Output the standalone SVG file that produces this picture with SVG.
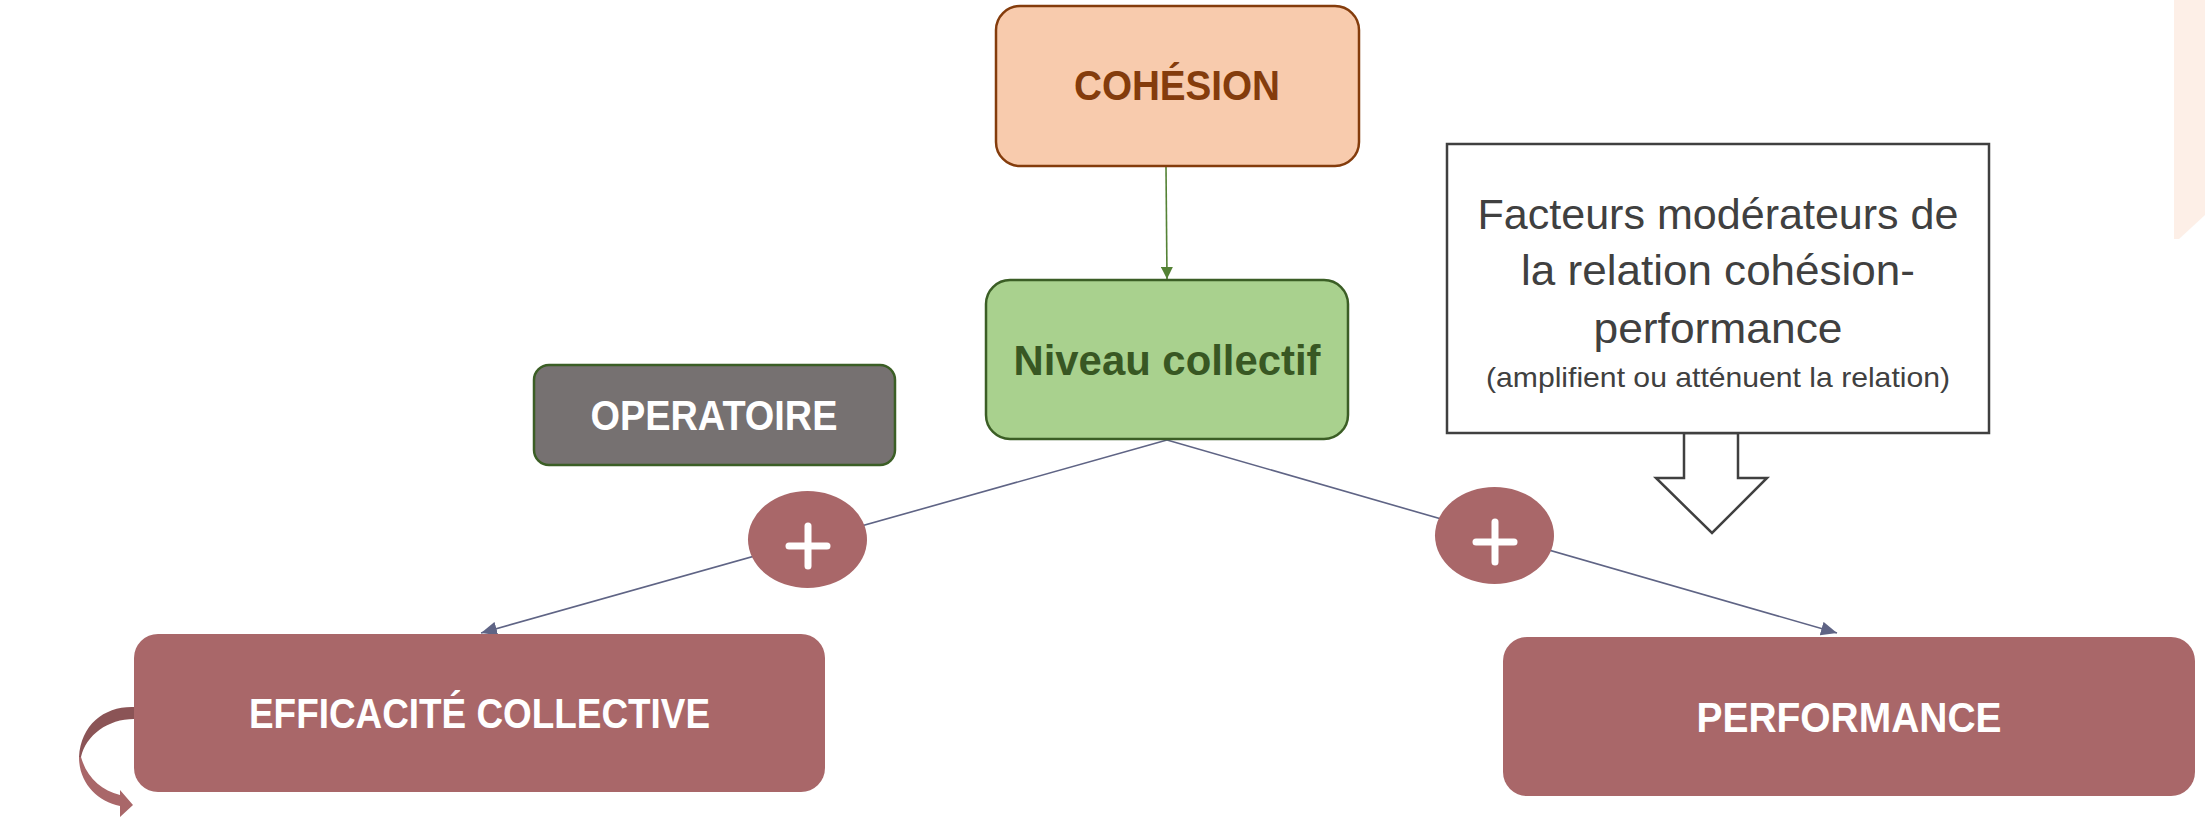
<svg xmlns="http://www.w3.org/2000/svg" width="2205" height="817" viewBox="0 0 2205 817">
  <defs>
    <marker id="arrowSlate" markerWidth="16" markerHeight="14" refX="16" refY="7" orient="auto" markerUnits="userSpaceOnUse">
      <path d="M0,0 L16,7 L0,14 Z" fill="#5F6485"/>
    </marker>
    <marker id="arrowGreen" markerWidth="12" markerHeight="12" refX="12" refY="6" orient="auto" markerUnits="userSpaceOnUse">
      <path d="M0,0 L12,6 L0,12 Z" fill="#548235"/>
    </marker>
  </defs>
  <style>
    .lbl { font-family: "Liberation Sans", Arial, sans-serif; font-weight: bold; font-size: 42px; text-anchor: middle; }
    .note { font-family: "Liberation Sans", Arial, sans-serif; font-size: 42px; fill: #404040; text-anchor: middle; }
    .small { font-size: 28.5px; }
    .white { fill: #FFFFFF; }
    .red { fill: #A96769; }
    .conn { stroke: #5F6485; stroke-width: 1.6; fill: none; }
    .plus { stroke: #FFFFFF; stroke-width: 7; stroke-linecap: round; }
  </style>

  <!-- light side tab at the top-right corner -->
  <polygon points="2174,0 2205,0 2205,215 2179,239 2174,239" fill="#FDEFE7"/>

  <!-- connectors -->
  <g id="connectors">
    <line x1="1166" y1="167" x2="1167" y2="279" stroke="#548235" stroke-width="1.6" marker-end="url(#arrowGreen)"/>
    <line class="conn" x1="1167" y1="440" x2="481" y2="633" marker-end="url(#arrowSlate)"/>
    <line class="conn" x1="1167" y1="440" x2="1837" y2="633" marker-end="url(#arrowSlate)"/>
  </g>

  <g id="cohesion">
    <rect x="996" y="6" width="363" height="160" rx="24" fill="#F8CBAD" stroke="#843C0C" stroke-width="2.5"/>
    <text class="lbl" x="1177" y="100" fill="#843C0C" textLength="206" lengthAdjust="spacingAndGlyphs">COHÉSION</text>
  </g>

  <g id="niveau-collectif">
    <rect x="986" y="280" width="362" height="159" rx="24" fill="#A9D18E" stroke="#3B5E25" stroke-width="2.5"/>
    <text class="lbl" x="1167" y="375" fill="#385723" textLength="307" lengthAdjust="spacingAndGlyphs">Niveau collectif</text>
  </g>

  <g id="operatoire">
    <rect x="534" y="365" width="361" height="100" rx="15" fill="#767171" stroke="#3B5E25" stroke-width="2.5"/>
    <text class="lbl white" x="714" y="430" textLength="247" lengthAdjust="spacingAndGlyphs">OPERATOIRE</text>
  </g>

  <g id="facteurs">
    <polygon points="1684,433 1684,478 1656,478 1712,533 1767,478 1738,478 1738,433" fill="#FFFFFF" stroke="#404040" stroke-width="2.5"/>
    <rect x="1447" y="144" width="542" height="289" fill="#FFFFFF" stroke="#404040" stroke-width="2.5"/>
    <text class="note" x="1718" y="229" textLength="481" lengthAdjust="spacingAndGlyphs">Facteurs modérateurs de</text>
    <text class="note" x="1718" y="285" textLength="394" lengthAdjust="spacingAndGlyphs">la relation cohésion-</text>
    <text class="note" x="1718" y="343" textLength="249" lengthAdjust="spacingAndGlyphs">performance</text>
    <text class="note small" x="1718" y="387" textLength="464" lengthAdjust="spacingAndGlyphs">(amplifient ou atténuent la relation)</text>
  </g>

  <g id="plus-left">
    <ellipse class="red" cx="807.5" cy="539.5" rx="59.5" ry="48.5"/>
    <line class="plus" x1="789" y1="546" x2="827" y2="546"/>
    <line class="plus" x1="808" y1="526" x2="808" y2="566"/>
  </g>

  <g id="plus-right">
    <ellipse class="red" cx="1494.5" cy="535.5" rx="59.5" ry="48.5"/>
    <line class="plus" x1="1476" y1="542" x2="1514" y2="542"/>
    <line class="plus" x1="1495" y1="522" x2="1495" y2="562"/>
  </g>

  <g id="efficacite-collective">
    <rect class="red" x="134" y="634" width="691" height="158" rx="24"/>
    <text class="lbl white" x="479.5" y="728" textLength="461" lengthAdjust="spacingAndGlyphs">EFFICACITÉ COLLECTIVE</text>
    <!-- looping arrow back onto the box -->
    <path d="M134,707 C105,706 81,724 79,757 L81,757 C86,735 108,719 134,719 Z" fill="#8B5456"/>
    <path d="M79,757 C79,783 97,801 120,806 L120,817 L133,805 L120,790 L120,795 C101,790 87,778 81,757 Z" fill="#A96769"/>
  </g>

  <g id="performance">
    <rect class="red" x="1503" y="637" width="692" height="159" rx="24"/>
    <text class="lbl white" x="1849" y="732" textLength="305" lengthAdjust="spacingAndGlyphs">PERFORMANCE</text>
  </g>
</svg>
